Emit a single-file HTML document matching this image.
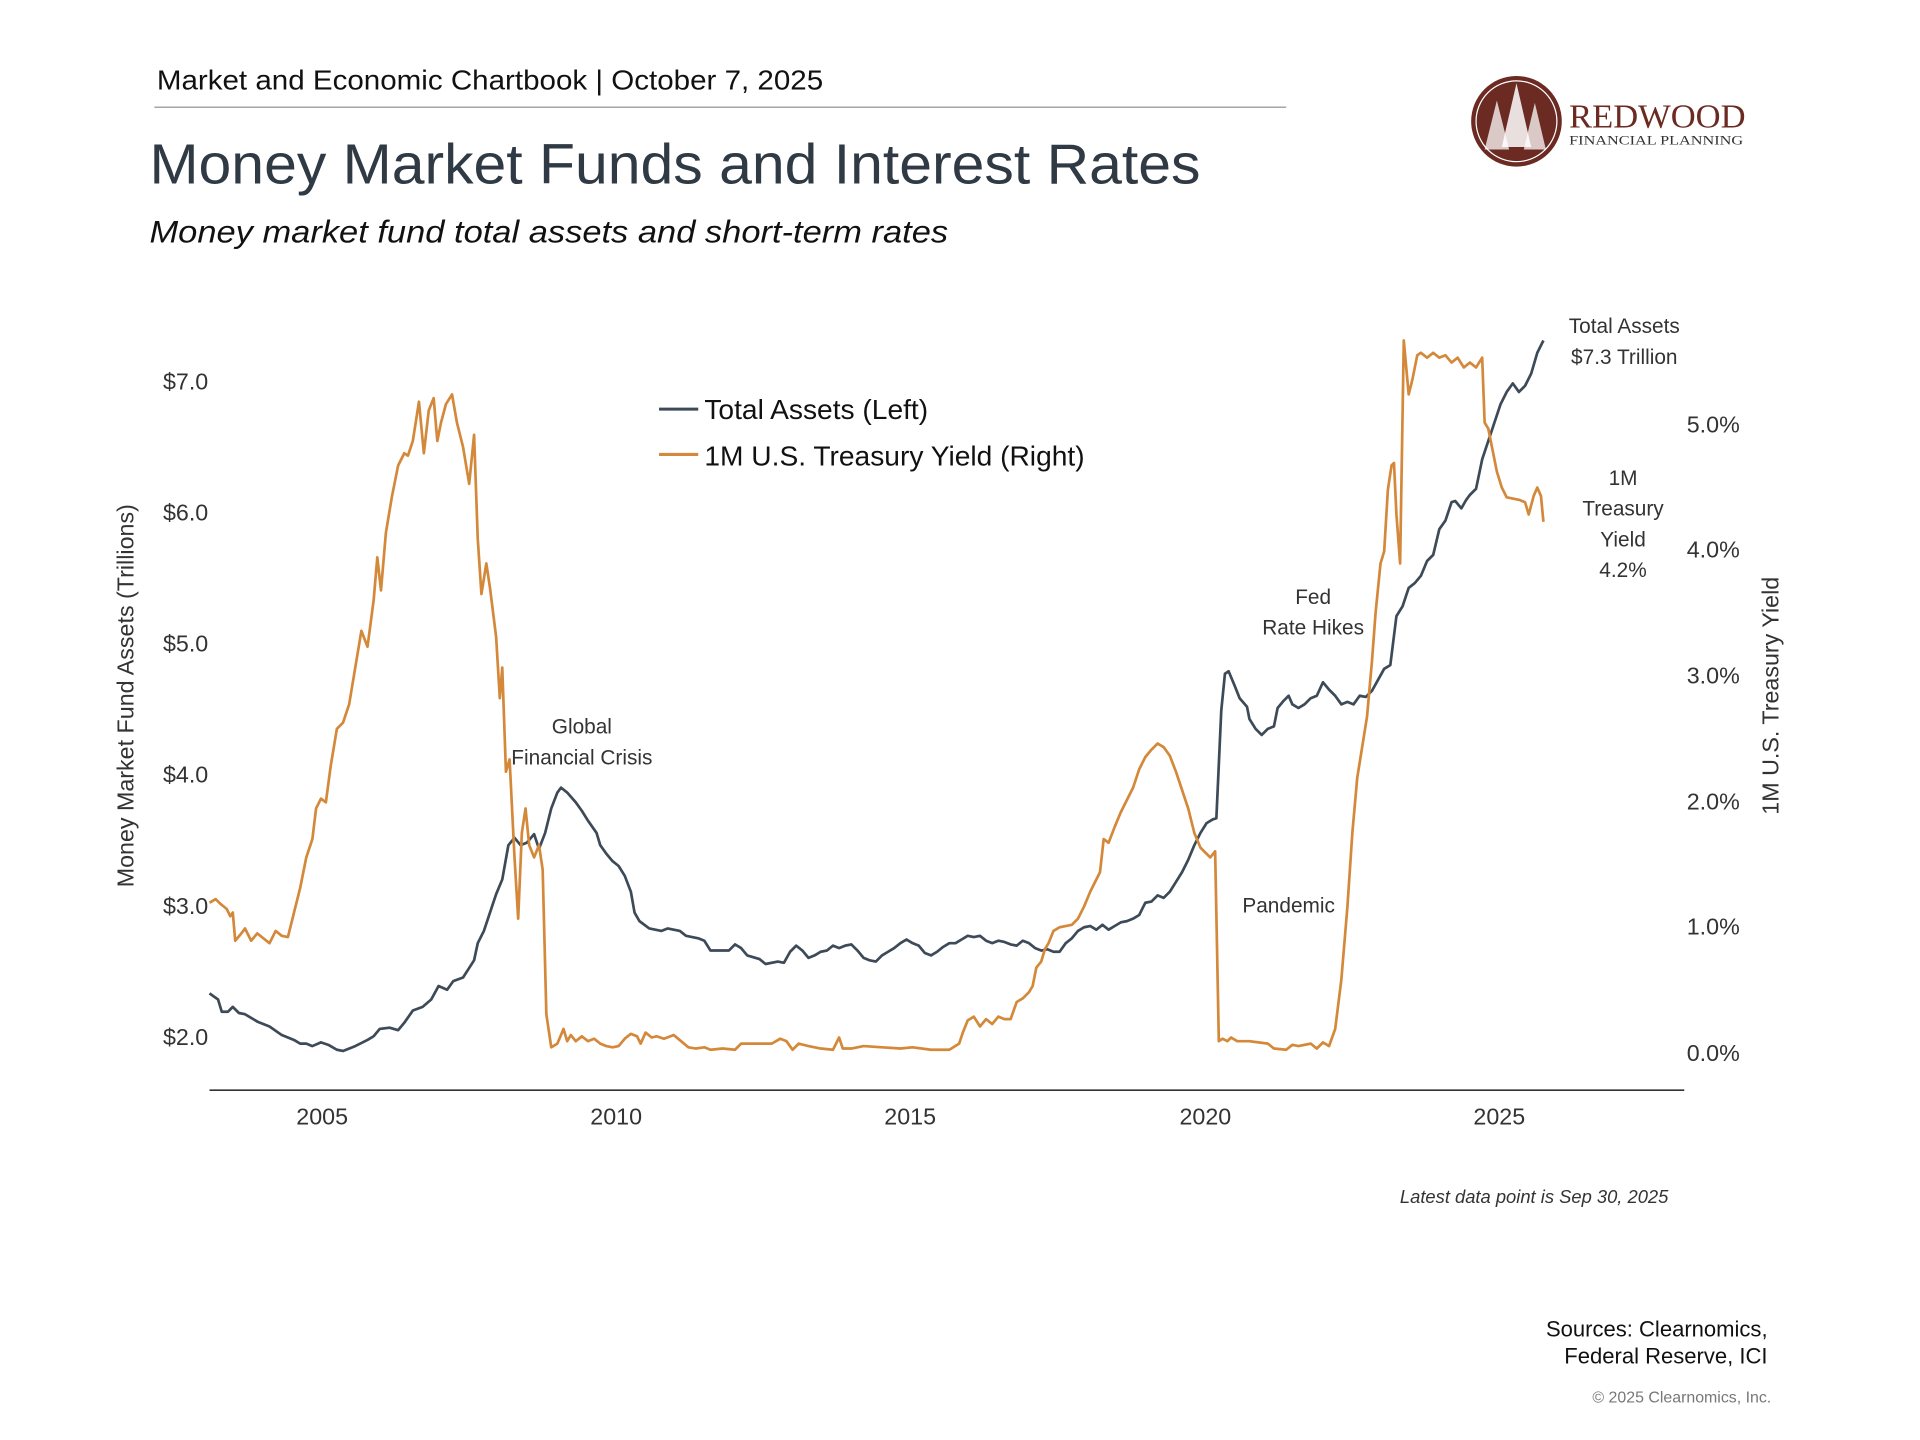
<!DOCTYPE html>
<html><head><meta charset="utf-8"><style>
html,body{margin:0;padding:0;background:#fff;}
svg{display:block;}
text{font-family:"Liberation Sans",sans-serif;}
</style></head><body>
<svg width="1920" height="1440" viewBox="0 0 1567.4 1175.6" xmlns="http://www.w3.org/2000/svg">
<rect width="1567.4" height="1175.6" fill="#fff"/>
<text x="128" y="73" font-size="23" fill="#111" textLength="544" lengthAdjust="spacingAndGlyphs">Market and Economic Chartbook | October 7, 2025</text>
<line x1="126" y1="87.5" x2="1050" y2="87.5" stroke="#888" stroke-width="1"/>
<text x="122" y="150" font-size="46" fill="#2f3a44" textLength="858" lengthAdjust="spacingAndGlyphs">Money Market Funds and Interest Rates</text>
<text x="122" y="198" font-size="26" font-style="italic" fill="#111" textLength="652" lengthAdjust="spacingAndGlyphs">Money market fund total assets and short-term rates</text>
<circle cx="1238" cy="99" r="37" fill="#6b2a22"/>
<circle cx="1238" cy="99" r="33" fill="none" stroke="#fff" stroke-width="1"/>
<polygon points="1238,68 1226,120 1250,120" fill="#fff" opacity="0.85"/>
<polygon points="1222,82 1212,122 1232,122" fill="#fff" opacity="0.75"/>
<polygon points="1253,84 1244,122 1262,122" fill="#fff" opacity="0.75"/>
<text x="1281" y="104" font-size="28" fill="#6b2a22" textLength="144" lengthAdjust="spacingAndGlyphs" style="font-family:'Liberation Serif',serif">REDWOOD</text>
<text x="1281" y="118" font-size="10" fill="#333" textLength="142" lengthAdjust="spacingAndGlyphs" style="font-family:'Liberation Serif',serif">FINANCIAL PLANNING</text>
<g font-size="19" fill="#333" text-anchor="end">
<text x="170" y="318">$7.0</text><text x="170" y="425">$6.0</text><text x="170" y="532">$5.0</text><text x="170" y="639">$4.0</text><text x="170" y="746">$3.0</text><text x="170" y="853">$2.0</text>
</g>
<g font-size="19" fill="#333">
<text x="1377" y="353">5.0%</text><text x="1377" y="455">4.0%</text><text x="1377" y="558">3.0%</text><text x="1377" y="661">2.0%</text><text x="1377" y="763">1.0%</text><text x="1377" y="866">0.0%</text>
</g>
<text transform="translate(109,568) rotate(-90)" font-size="19" fill="#333" text-anchor="middle">Money Market Fund Assets (Trillions)</text>
<text transform="translate(1452,568) rotate(-90)" font-size="19" fill="#333" text-anchor="middle">1M U.S. Treasury Yield</text>
<line x1="171" y1="890" x2="1375" y2="890" stroke="#333" stroke-width="1.3"/>
<g font-size="19" fill="#333" text-anchor="middle">
<text x="263" y="918">2005</text><text x="503" y="918">2010</text><text x="743" y="918">2015</text><text x="984" y="918">2020</text><text x="1224" y="918">2025</text>
</g>
<line x1="538" y1="334" x2="570" y2="334" stroke="#3d4a57" stroke-width="2.5"/>
<text x="575" y="342" font-size="23" fill="#111">Total Assets (Left)</text>
<line x1="538" y1="371" x2="570" y2="371" stroke="#d4883a" stroke-width="2.5"/>
<text x="575" y="380" font-size="23" fill="#111">1M U.S. Treasury Yield (Right)</text>
<g font-size="17" fill="#333" text-anchor="middle">
<text x="475" y="599">Global</text><text x="475" y="624">Financial Crisis</text>
<text x="1072" y="493">Fed</text><text x="1072" y="518">Rate Hikes</text>
<text x="1052" y="745">Pandemic</text>
<text x="1326" y="272">Total Assets</text><text x="1326" y="297">$7.3 Trillion</text>
<text x="1325" y="396">1M</text><text x="1325" y="421">Treasury</text><text x="1325" y="446">Yield</text><text x="1325" y="471">4.2%</text>
</g>
<text x="1362" y="982" font-size="15" font-style="italic" fill="#333" text-anchor="end">Latest data point is Sep 30, 2025</text>
<text x="1443" y="1091" font-size="18" fill="#111" text-anchor="end">Sources: Clearnomics,</text>
<text x="1443" y="1113" font-size="18" fill="#111" text-anchor="end">Federal Reserve, ICI</text>
<text x="1446" y="1145" font-size="13" fill="#777" text-anchor="end">© 2025 Clearnomics, Inc.</text>
<polyline fill="none" stroke="#3d4a57" stroke-width="2.2" stroke-linejoin="round" points="171,811 178,816 181,826 186,826 190,822 195,827 200,828 210,834 220,838 230,845 240,849 245,852 250,852 255,854 262,851 268,853 275,857 280,858 290,854 300,849 305,846 310,840 318,839 325,841 330,835 337,825 345,822 352,816 358,805 365,808 370,801 378,798 387,784 390,770 395,760 400,745 405,730 410,718 415,690 420,684 425,690 430,688 436,681 440,693 445,680 450,660 455,647 458,643 463,647 470,655 475,662 480,670 487,680 490,690 495,697 500,703 505,707 510,715 515,728 518,745 522,752 530,758 540,760 545,758 555,760 560,764 570,766 575,768 580,776 590,776 595,776 600,771 605,774 610,780 620,783 625,787 635,785 640,786 645,777 650,772 655,776 660,782 665,780 670,777 675,776 680,772 685,774 690,772 695,771 700,776 705,782 710,784 715,785 720,780 725,777 730,774 735,770 740,767 745,770 750,772 755,778 760,780 765,777 770,773 775,770 780,770 785,767 790,764 795,765 800,764 805,768 810,770 815,768 820,769 825,771 830,772 835,768 840,770 845,774 850,776 855,775 860,777 865,777 870,770 875,766 880,760 885,757 890,756 895,759 900,755 905,759 910,756 915,753 920,752 925,750 930,747 935,737 940,736 945,731 950,733 955,728 960,720 965,712 970,702 975,690 980,680 985,672 990,669 993,668 997,580 1000,550 1003,548 1008,560 1012,570 1018,577 1020,587 1025,595 1030,600 1035,595 1040,593 1043,578 1048,572 1052,568 1055,575 1060,578 1065,575 1070,570 1075,568 1080,557 1085,563 1090,568 1095,575 1100,573 1105,575 1110,568 1115,569 1120,564 1125,555 1130,546 1135,543 1140,503 1145,495 1150,480 1155,476 1160,470 1165,458 1170,453 1175,432 1180,425 1185,410 1188,409 1193,415 1197,408 1200,404 1205,399 1210,375 1215,360 1220,345 1225,330 1230,320 1235,313 1240,320 1245,315 1250,305 1255,288 1260,278"/>
<polyline fill="none" stroke="#d4883a" stroke-width="2.2" stroke-linejoin="round" points="171,737 176,734 180,738 185,742 188,748 190,745 192,768 197,762 200,758 205,768 210,762 215,766 220,770 225,760 230,764 235,765 240,745 245,725 250,700 255,685 258,660 262,652 266,655 270,625 275,595 280,590 285,575 290,545 295,515 300,528 305,490 308,455 311,482 315,435 320,405 325,380 330,370 333,372 337,360 342,328 346,370 350,335 354,325 357,360 360,345 364,330 369,322 373,345 378,365 383,395 387,355 390,440 393,485 397,460 400,480 405,520 408,570 410,545 413,630 416,620 420,700 423,750 426,680 429,660 432,690 436,700 440,690 443,710 446,828 450,855 455,852 460,840 463,850 466,845 470,850 475,846 480,850 485,848 490,852 495,854 500,855 505,854 510,848 515,844 520,846 523,852 527,843 532,847 536,846 542,848 550,845 556,850 562,855 568,856 575,855 580,857 590,856 600,857 605,852 612,852 620,852 630,852 637,848 642,850 647,857 652,852 660,854 670,856 680,857 685,847 688,856 695,856 705,854 720,855 735,856 745,855 760,857 775,857 783,852 786,843 790,833 795,830 800,838 805,832 810,836 815,830 820,832 825,832 830,818 835,815 840,810 843,805 846,790 850,785 853,775 856,770 860,760 865,757 870,756 875,755 880,750 885,740 890,728 895,718 898,712 901,685 905,688 910,675 915,663 920,653 925,643 930,628 935,618 940,612 945,607 950,610 955,617 960,630 965,645 970,660 975,680 980,692 985,697 988,700 992,695 995,850 998,848 1002,850 1005,847 1010,850 1020,850 1035,852 1040,856 1050,857 1055,853 1060,854 1070,852 1075,856 1080,851 1085,854 1090,840 1095,800 1100,740 1104,680 1108,635 1112,610 1116,585 1120,540 1123,500 1127,460 1130,450 1133,400 1136,380 1138,378 1140,420 1143,460 1146,278 1150,322 1153,310 1157,290 1160,288 1165,292 1170,288 1175,292 1180,290 1185,296 1190,292 1195,300 1200,296 1205,300 1210,292 1212,345 1215,350 1218,365 1222,385 1226,398 1230,406 1240,408 1245,410 1248,420 1252,405 1255,398 1258,405 1260,426"/>
</svg>
</body></html>
